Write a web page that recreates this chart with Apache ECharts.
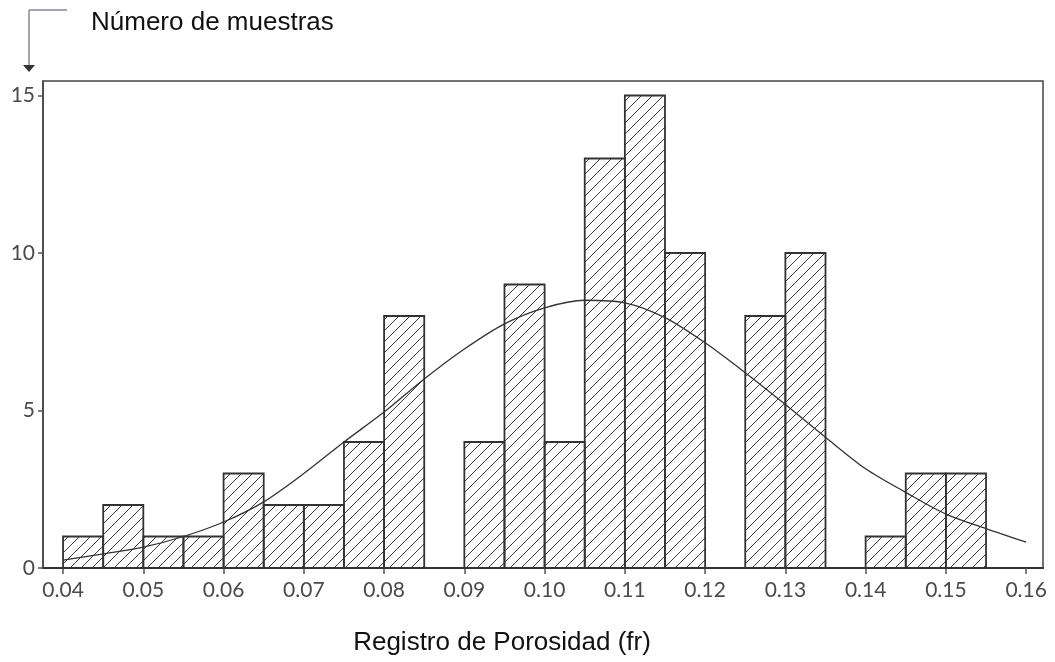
<!DOCTYPE html>
<html>
<head>
<meta charset="utf-8">
<script src="https://cdn.jsdelivr.net/npm/echarts@6/dist/echarts.min.js"></script>
<style>
  html, body { margin: 0; padding: 0; background: #ffffff; }
  #chart { width: 1055px; height: 662px; }
</style>
</head>
<body>
<div id="chart"></div>
<script>
// ---- Data ----
const binStarts = [0.040, 0.045, 0.050, 0.055, 0.060, 0.065, 0.070, 0.075, 0.080, 0.085,
                   0.090, 0.095, 0.100, 0.105, 0.110, 0.115, 0.120, 0.125, 0.130, 0.135,
                   0.140, 0.145, 0.150];
const binWidth = 0.005;
const counts = [1, 2, 1, 1, 3, 2, 2, 4, 8, 0,
                4, 9, 4, 13, 15, 10, 0, 8, 10, 0,
                1, 3, 3];

// fitted normal curve
const curveX = [0.040, 0.045, 0.050, 0.055, 0.060, 0.065, 0.070, 0.075, 0.080, 0.085,
                0.090, 0.095, 0.100, 0.105, 0.110, 0.115, 0.120, 0.125, 0.130, 0.135,
                0.140, 0.145, 0.150, 0.155, 0.160];
const curveY = [0.25, 0.45, 0.66, 1.0, 1.46, 2.1, 3.0, 4.0, 4.95, 6.0,
                6.95, 7.75, 8.26, 8.5, 8.42, 7.95, 7.15, 6.2, 5.19, 4.15,
                3.15, 2.4, 1.71, 1.25, 0.82];

const xTicks = [0.04, 0.05, 0.06, 0.07, 0.08, 0.09, 0.10, 0.11, 0.12, 0.13, 0.14, 0.15, 0.16];
const yTicks = [0, 5, 10, 15];

const yTitle = 'Número de muestras';
const xTitle = 'Registro de Porosidad (fr)';

// ---- hatch pattern ----
function makeHatch() {
  const s = 11;
  const c = document.createElement('canvas');
  c.width = s; c.height = s;
  const ctx = c.getContext('2d');
  ctx.strokeStyle = '#3a3a3a';
  ctx.lineWidth = 1;
  ctx.beginPath();
  ctx.moveTo(-1, s + 1); ctx.lineTo(s + 1, -1);
  ctx.moveTo(-2, 2); ctx.lineTo(2, -2);
  ctx.moveTo(s - 2, s + 2); ctx.lineTo(s + 2, s - 2);
  ctx.stroke();
  return c;
}
const hatch = { image: makeHatch(), repeat: 'repeat' };

const histData = binStarts
  .map((s, i) => [s, s + binWidth, counts[i]])
  .filter(d => d[2] > 0);
const curveData = curveX.map((x, i) => [x, curveY[i]]);

const chart = echarts.init(document.getElementById('chart'), null, { renderer: 'canvas' });

chart.setOption({
  animation: false,
  backgroundColor: '#ffffff',
  title: {
    text: yTitle,
    left: 86,
    top: 5,
    textStyle: { fontFamily: 'Liberation Sans, Arial, sans-serif', fontSize: 26, fontWeight: 'normal', color: '#111' }
  },
  grid: {
    left: 43, right: 12, top: 81, bottom: 94,
    show: true, borderColor: '#444', borderWidth: 1.5, backgroundColor: 'transparent'
  },
  xAxis: {
    type: 'value',
    min: 0.0375,
    max: 0.1621,
    name: xTitle,
    nameLocation: 'middle',
    nameGap: 62,
    nameTextStyle: { fontFamily: 'Liberation Sans, Arial, sans-serif', fontSize: 26, color: '#111', padding: [0, 82, 0, 0] },
    axisLine: { show: true, onZero: false, lineStyle: { color: '#333', width: 2 } },
    axisTick: { show: true, inside: false, length: 6, customValues: xTicks, lineStyle: { color: '#555', width: 1.5 } },
    axisLabel: {
      customValues: xTicks,
      margin: 12,
      fontFamily: 'Lato, "Noto Sans", sans-serif',
      fontSize: 21,
      color: '#4a4a4a',
      formatter: v => v.toFixed(2)
    },
    splitLine: { show: false }
  },
  yAxis: {
    type: 'value',
    min: 0,
    max: 15.46,
    axisLine: { show: true, lineStyle: { color: '#444', width: 1.5 } },
    axisTick: { show: true, inside: false, length: 5, customValues: yTicks, lineStyle: { color: '#555', width: 1.5 } },
    axisLabel: {
      customValues: yTicks,
      margin: 8,
      fontFamily: 'Lato, "Noto Sans", sans-serif',
      fontSize: 21,
      color: '#4a4a4a'
    },
    splitLine: { show: false }
  },
  graphic: [
    { type: 'line', shape: { x1: 29, y1: 10, x2: 67, y2: 10 }, style: { stroke: '#8a7cb6', lineWidth: 1.5 }, silent: true },
    { type: 'line', shape: { x1: 29, y1: 10, x2: 29, y2: 65 }, style: { stroke: '#888', lineWidth: 1.5 }, silent: true },
    { type: 'polygon', shape: { points: [[23, 65], [35, 65], [29, 72]] }, style: { fill: '#333' }, silent: true }
  ],
  series: [
    {
      type: 'custom',
      name: 'Histograma',
      data: histData,
      encode: { x: [0, 1], y: 2 },
      z: 2,
      renderItem: function (params, api) {
        const p0 = api.coord([api.value(0), api.value(2)]);
        const p1 = api.coord([api.value(1), 0]);
        return {
          type: 'rect',
          shape: { x: p0[0], y: p0[1], width: p1[0] - p0[0], height: p1[1] - p0[1] },
          style: { fill: hatch, stroke: '#333', lineWidth: 1.8 }
        };
      }
    },
    {
      type: 'line',
      name: 'Normal',
      data: curveData,
      smooth: 0.3,
      symbol: 'none',
      z: 5,
      lineStyle: { color: '#333', width: 1.3 }
    }
  ]
});
</script>
</body>
</html>
